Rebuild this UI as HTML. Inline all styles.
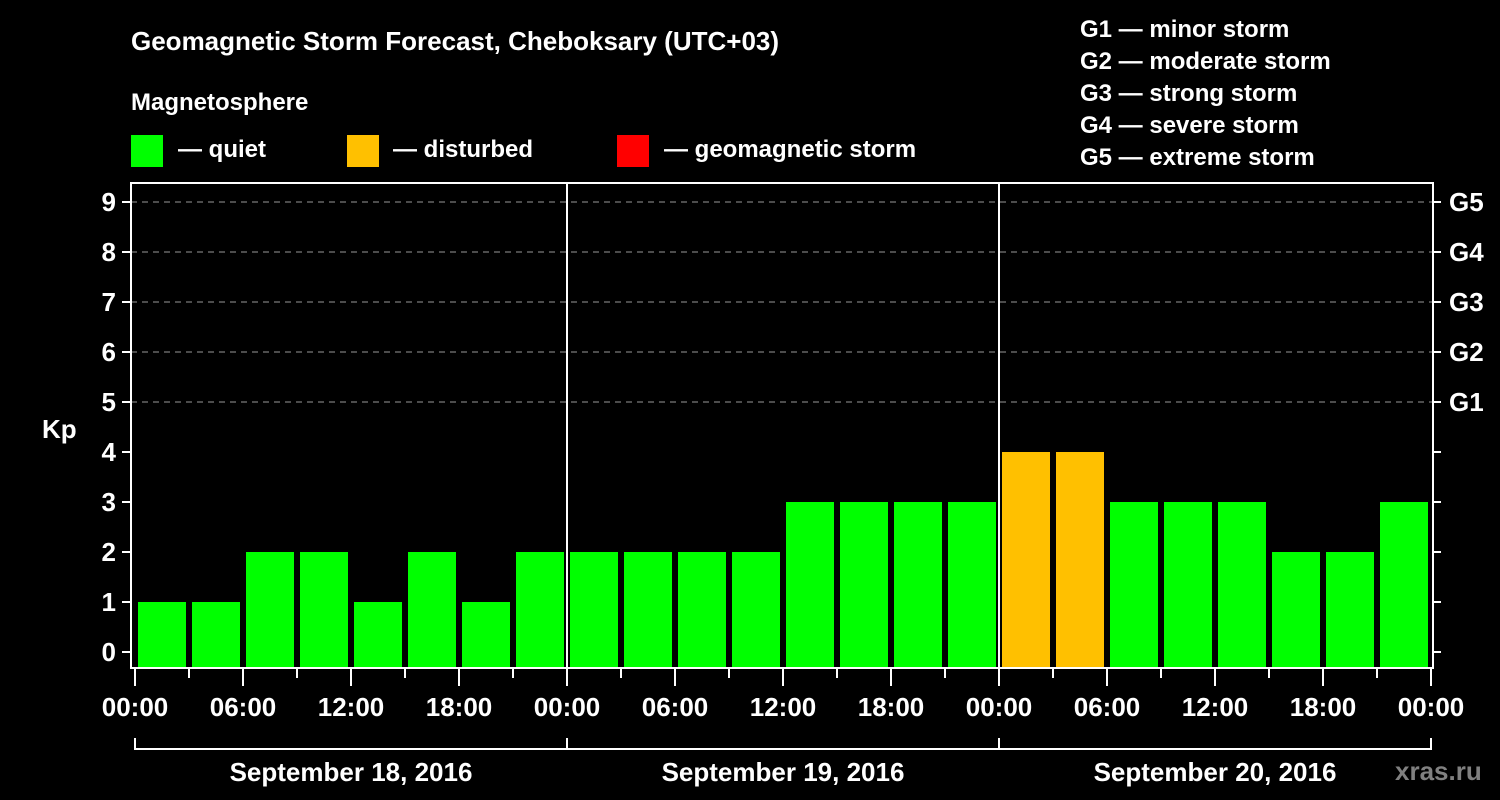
<!DOCTYPE html>
<html><head><meta charset="utf-8"><style>
html,body{margin:0;padding:0;background:#000;}
svg{display:block;font-family:"Liberation Sans",sans-serif;font-weight:bold;}
</style></head><body>
<svg id="chart" width="1500" height="800" viewBox="0 0 1500 800">
<text x="131" y="50" fill="#fff" font-size="26">Geomagnetic Storm Forecast, Cheboksary (UTC+03)</text>
<text x="131" y="110" fill="#fff" font-size="24">Magnetosphere</text>
<g><rect x="131" y="135" width="32" height="32" fill="#00ff00"/><text x="178" y="157" fill="#fff" font-size="24">— quiet</text></g>
<g><rect x="347" y="135" width="32" height="32" fill="#ffc000"/><text x="393" y="157" fill="#fff" font-size="24">— disturbed</text></g>
<g><rect x="617" y="135" width="32" height="32" fill="#ff0000"/><text x="664" y="157" fill="#fff" font-size="24">— geomagnetic storm</text></g>
<g fill="#fff" font-size="24">
<text x="1080" y="37">G1 — minor storm</text>
<text x="1080" y="69">G2 — moderate storm</text>
<text x="1080" y="101">G3 — strong storm</text>
<text x="1080" y="133">G4 — severe storm</text>
<text x="1080" y="165">G5 — extreme storm</text>
</g>
<text x="42" y="438" fill="#fff" font-size="26">Kp</text>
<text x="1395" y="780" fill="#808080" font-size="26">xras.ru</text>
<g id="grid"></g><g id="bars"></g><g id="axes"></g>
</svg>
<script>
const kpValues = [1,1,2,2,1,2,1,2, 2,2,2,2,3,3,3,3, 4,4,3,3,3,2,2,3];
const dayLabels = ["September 18, 2016","September 19, 2016","September 20, 2016"];
const timeLabels = ["00:00","06:00","12:00","18:00"];
const yTicks = [0,1,2,3,4,5,6,7,8,9];
const gLabels = ["G1","G2","G3","G4","G5"];
const NS="http://www.w3.org/2000/svg";
const L=131,R=1433,T=183,B=668,X0=135,DAY=432;
const y=v=>652-50*v;
const x=i=>X0+i*54;
function mk(t,a,p){const e=document.createElementNS(NS,t);for(const k in a)e.setAttribute(k,a[k]);p.appendChild(e);return e;}
const grid=document.getElementById('grid'),bars=document.getElementById('bars'),axes=document.getElementById('axes');
yTicks.forEach(v=>{
 if(v>=5){const g=mk('line',{x1:L,x2:R,y1:y(v),y2:y(v),stroke:'#999','stroke-dasharray':'6,5','stroke-width':1},grid);
 }
 const t=mk('line',{x1:122,x2:L,y1:y(v),y2:y(v),stroke:'#fff','stroke-width':2},axes);
 
 const l=mk('text',{x:116,y:y(v)+9,fill:'#fff','font-size':26,'text-anchor':'end'},axes);l.textContent=v;
 
 const rt=mk('line',{x1:R,x2:1441,y1:y(v),y2:y(v),stroke:'#fff','stroke-width':2},axes);
 
});
gLabels.forEach((g,i)=>{const l=mk('text',{x:1449,y:y(5+i)+9,fill:'#fff','font-size':26},axes);l.textContent=g;
 });
kpValues.forEach((v,i)=>{
 const c=v>=5?'#ff0000':(v>=4?'#ffc000':'#00ff00');
 const r=mk('rect',{x:x(i)+3,y:y(v),width:48,height:667-y(v),fill:c},bars);
 
});
const fr=mk('rect',{x:L,y:T,width:R-L,height:B-T,fill:'none',stroke:'#fff','stroke-width':2},axes);

for(let d=1;d<dayLabels.length;d++){const ln=mk('line',{x1:X0+d*DAY,x2:X0+d*DAY,y1:T,y2:B,stroke:'#fff','stroke-width':2},axes);
 }
for(let i=0;i<=kpValues.length;i++){
 const major=i%2==0;
 const t=mk('line',{x1:x(i),x2:x(i),y1:B,y2:major?686:678,stroke:'#fff','stroke-width':2},axes);
 
 if(major){const l=mk('text',{x:x(i),y:716,fill:'#fff','font-size':26,'text-anchor':'middle'},axes);
  l.textContent=timeLabels[(i/2)%4];
  }
}
dayLabels.forEach((d,k)=>{
 const x1=X0+k*DAY,x2=X0+(k+1)*DAY;
 const p=mk('path',{d:`M${x1},738V749H${x2}V738`,fill:'none',stroke:'#fff','stroke-width':2},axes);
 
 const l=mk('text',{x:(x1+x2)/2,y:781,fill:'#fff','font-size':26,'text-anchor':'middle'},axes);l.textContent=d;
 
});
</script>
</body></html>
